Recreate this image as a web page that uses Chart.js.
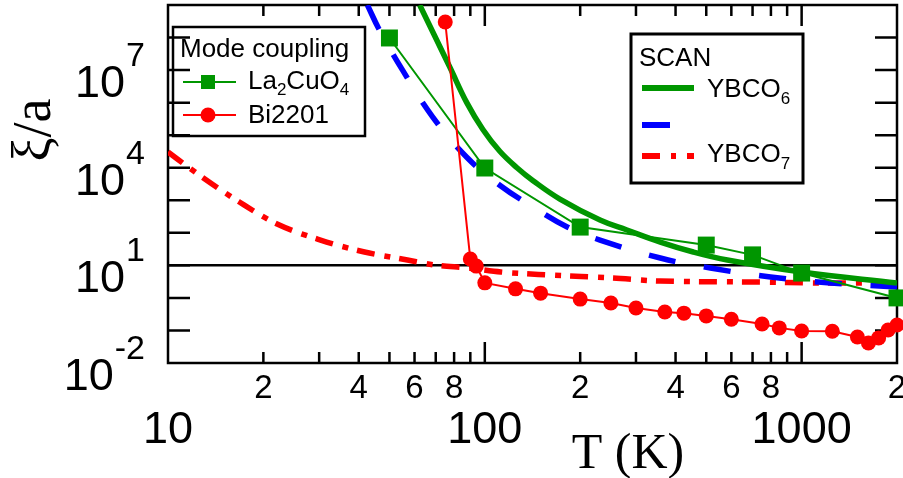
<!DOCTYPE html>
<html>
<head>
<meta charset="utf-8">
<script src="https://cdn.jsdelivr.net/npm/chart.js@4.4.1/dist/chart.umd.min.js"></script>
<style>
  html, body { margin: 0; padding: 0; background: #fff; }
</style>
</head>
<body>
<canvas id="xiChart" width="903" height="478"></canvas>
<script>
// Mode coupling: La2CuO4 (squares) and Bi2201 (circles)
const tempLa = [50, 100, 200, 500, 700, 1000, 2000];
const xiLa = [9.7e7, 9.8e3, 150, 42, 21, 5.8, 1.0];

const tempBi = [75, 90, 94, 100, 125, 150, 200, 250, 300, 370, 425, 500, 600, 750, 850, 1000, 1250, 1500, 1625, 1750, 1875, 2000];
const xiBi = [3e8, 15.7, 9.5, 2.9, 1.9, 1.4, 0.92, 0.70, 0.49, 0.37, 0.34, 0.28, 0.22, 0.158, 0.12, 0.096, 0.095, 0.063, 0.041, 0.059, 0.103, 0.147];

// SCAN curves
const tempY6 = [62.3, 77.5, 87.7, 98.6, 111.5, 126.3, 142, 172.6, 231, 281, 358, 455, 583, 1000, 2000];
const xiY6 = [1e9, 1.24e7, 1.0e6, 1.5e5, 3.2e4, 1.0e4, 4.0e3, 1.09e3, 247, 122, 52, 25.7, 14.6, 6.25, 2.87];

const tempBlue = [42.6, 46.5, 55, 68.5, 87.7, 111.5, 142, 182, 231, 358, 515, 798, 1236, 2000];
const xiBlue = [1e9, 1.7e8, 1e7, 3.6e5, 2.1e4, 2.9e3, 620, 151, 60, 16.8, 8.3, 4.4, 2.87, 2.16];

const tempY7 = [10, 12.8, 16.8, 22.1, 30.3, 41.7, 57, 69.5, 88.4, 112.4, 160.6, 254, 358, 741, 1208, 2000];
const xiY7 = [3.03e4, 5.18e3, 884, 186, 60, 25.7, 14.6, 10.26, 8.3, 6.25, 5.05, 4.08, 3.3, 3.08, 2.87, 2.87];

// horizontal reference line
const refTemps = [10, 2000];
const refLevel = 10;

// axes
const xMinorTicks = [20, 30, 40, 50, 60, 70, 80, 90, 200, 300, 400, 500, 600, 700, 800, 900];
const xMajorTicks = [100, 1000];
const xMinorLabels = [20, 40, 60, 80, 200, 400, 600, 800, 2000];
const xMajorLabels = [10, 100, 1000];
const yTicks = [0.1, 1, 10, 100, 1e3, 1e4, 1e5, 1e6, 1e7, 1e8];
const yLabelExps = [-2, 1, 4, 7];

const GREEN = "rgb(0,150,0)";
const RED = "#ff0000";
const BLUE = "#0000ff";
const SANS = '"Liberation Sans", Arial, sans-serif';
const SERIF = '"Liberation Serif", "Times New Roman", serif';

const pts = (xs, ys) => xs.map((t, i) => ({ x: t, y: ys[i] }));

function richText(ctx, parts, x, y) {
  let cx = x;
  parts.forEach((p) => {
    ctx.font = p.size + "px " + SANS;
    ctx.fillText(p.t, cx, y + (p.dy || 0));
    cx += ctx.measureText(p.t).width;
  });
}

const framePlugin = {
  id: "frame",
  beforeDraw(chart) {
    const ctx = chart.ctx;
    ctx.save();
    ctx.fillStyle = "#fff";
    ctx.fillRect(0, 0, chart.width, chart.height);
    ctx.restore();
  },
  beforeDatasetsDraw(chart) {
    const { ctx, chartArea: a } = chart;
    const x = chart.scales.x;
    const y = chart.scales.y;
    ctx.save();
    ctx.strokeStyle = "#000";
    ctx.lineWidth = 2.5;
    ctx.beginPath();
    xMinorTicks.forEach((v) => {
      const px = x.getPixelForValue(v);
      ctx.moveTo(px, a.bottom); ctx.lineTo(px, a.bottom - 11);
      ctx.moveTo(px, a.top); ctx.lineTo(px, a.top + 11);
    });
    xMajorTicks.forEach((v) => {
      const px = x.getPixelForValue(v);
      ctx.moveTo(px, a.bottom); ctx.lineTo(px, a.bottom - 21);
      ctx.moveTo(px, a.top); ctx.lineTo(px, a.top + 21);
    });
    yTicks.forEach((v) => {
      const py = y.getPixelForValue(v);
      ctx.moveTo(a.left, py); ctx.lineTo(a.left + 22, py);
      ctx.moveTo(a.right, py); ctx.lineTo(a.right - 22, py);
    });
    ctx.stroke();
    ctx.strokeRect(a.left, a.top, a.right - a.left, a.bottom - a.top);
    ctx.restore();
  },
  afterDraw(chart) {
    const { ctx } = chart;
    const x = chart.scales.x;
    const y = chart.scales.y;
    ctx.save();
    ctx.fillStyle = "#000";
    ctx.textBaseline = "alphabetic";

    // y tick labels 10^n
    yLabelExps.forEach((e) => {
      const py = y.getPixelForValue(Math.pow(10, e));
      ctx.textAlign = "right";
      ctx.font = "34px " + SANS;
      const exp = e < 0 ? "-" + Math.abs(e) : String(e);
      ctx.fillText(exp, 145, py - 4);
      const w = ctx.measureText(exp).width;
      ctx.font = "45px " + SANS;
      ctx.fillText("10", 145 - w - 1, py + 27);
    });

    // x tick labels
    ctx.textAlign = "center";
    ctx.font = "33px " + SANS;
    xMinorLabels.forEach((v) => {
      const d = Math.round(v / Math.pow(10, Math.floor(Math.log10(v) + 1e-9)));
      ctx.fillText(String(d), x.getPixelForValue(v), 398);
    });
    ctx.font = "45px " + SANS;
    xMajorLabels.forEach((v) => {
      ctx.fillText(String(v), x.getPixelForValue(v), 443);
    });

    // axis titles
    ctx.font = "50px " + SERIF;
    ctx.fillText("T (K)", 628, 468);
    ctx.save();
    ctx.translate(50, 130);
    ctx.rotate(-Math.PI / 2);
    ctx.font = "54px " + SERIF;
    ctx.fillText("\u03BE/a", 0, 0);
    ctx.restore();

    // legend: mode coupling
    ctx.textAlign = "left";
    ctx.strokeStyle = "#000";
    ctx.lineWidth = 2.5;
    ctx.strokeRect(173, 27, 192, 109);
    ctx.font = "26px " + SANS;
    ctx.fillText("Mode coupling", 180, 57);

    ctx.strokeStyle = GREEN;
    ctx.lineWidth = 2;
    ctx.beginPath(); ctx.moveTo(183, 82); ctx.lineTo(236, 82); ctx.stroke();
    ctx.fillStyle = GREEN;
    ctx.fillRect(201, 75, 14, 14);
    ctx.fillStyle = "#000";
    richText(ctx, [{ t: "La", size: 26 }, { t: "2", size: 17, dy: 6 }, { t: "CuO", size: 26 }, { t: "4", size: 17, dy: 6 }], 248, 89);

    ctx.strokeStyle = RED;
    ctx.beginPath(); ctx.moveTo(183, 115); ctx.lineTo(236, 115); ctx.stroke();
    ctx.fillStyle = RED;
    ctx.beginPath(); ctx.arc(208, 115, 7.5, 0, Math.PI * 2); ctx.fill();
    ctx.fillStyle = "#000";
    richText(ctx, [{ t: "Bi2201", size: 26 }], 248, 123);

    // legend: SCAN
    ctx.strokeStyle = "#000";
    ctx.lineWidth = 3;
    ctx.strokeRect(631, 34, 172, 149);
    richText(ctx, [{ t: "SCAN", size: 26 }], 639, 66);

    ctx.lineWidth = 6;
    ctx.strokeStyle = GREEN;
    ctx.beginPath(); ctx.moveTo(642, 88); ctx.lineTo(694, 88); ctx.stroke();
    richText(ctx, [{ t: "YBCO", size: 26 }, { t: "6", size: 17, dy: 7 }], 707, 97);

    ctx.strokeStyle = BLUE;
    ctx.beginPath(); ctx.moveTo(642, 125); ctx.lineTo(670, 125); ctx.stroke();

    ctx.strokeStyle = RED;
    ctx.setLineDash([18, 11, 5, 11]);
    ctx.beginPath(); ctx.moveTo(642, 156); ctx.lineTo(694, 156); ctx.stroke();
    ctx.setLineDash([]);
    richText(ctx, [{ t: "YBCO", size: 26 }, { t: "7", size: 17, dy: 7 }], 707, 162);

    ctx.restore();
  }
};

new Chart(document.getElementById("xiChart"), {
  type: "line",
  data: {
    datasets: [
      {
        label: "Bi2201",
        data: pts(tempBi, xiBi),
        borderColor: RED,
        backgroundColor: RED,
        borderWidth: 2,
        pointStyle: "circle",
        pointRadius: 7.5,
        pointBorderWidth: 0,
        pointBackgroundColor: RED,
        tension: 0,
        clip: false,
      },
      {
        label: "La2CuO4",
        data: pts(tempLa, xiLa),
        borderColor: GREEN,
        backgroundColor: GREEN,
        borderWidth: 2,
        pointStyle: "rect",
        pointRadius: 12,
        pointBorderWidth: 0,
        pointBackgroundColor: GREEN,
        tension: 0,
        clip: false,
      },
      {
        label: "YBCO6",
        data: pts(tempY6, xiY6),
        borderColor: GREEN,
        borderWidth: 5.5,
        pointRadius: 0,
        tension: 0.4,
      },
      {
        label: "SCAN (blue)",
        data: pts(tempBlue, xiBlue),
        borderColor: BLUE,
        borderWidth: 5.5,
        borderDash: [27, 29],
        pointRadius: 0,
        tension: 0.4,
      },
      {
        label: "YBCO7",
        data: pts(tempY7, xiY7),
        borderColor: RED,
        borderWidth: 5.5,
        borderDash: [18, 10, 6, 9],
        pointRadius: 0,
        cubicInterpolationMode: "monotone",
      },
      {
        label: "reference",
        data: refTemps.map((t) => ({ x: t, y: refLevel })),
        borderColor: "#000",
        borderWidth: 2.5,
        pointRadius: 0,
      },
    ],
  },
  options: {
    responsive: false,
    animation: false,
    devicePixelRatio: 1,
    layout: {
      padding: { left: 168, top: 5, right: 6, bottom: 115 },
      autoPadding: false,
    },
    plugins: {
      legend: { display: false },
      tooltip: { enabled: false },
    },
    scales: {
      x: { type: "logarithmic", min: 10, max: 2000, display: false },
      y: { type: "logarithmic", min: 0.01, max: 1e9, display: false },
    },
  },
  plugins: [framePlugin],
});
</script>
</body>
</html>
